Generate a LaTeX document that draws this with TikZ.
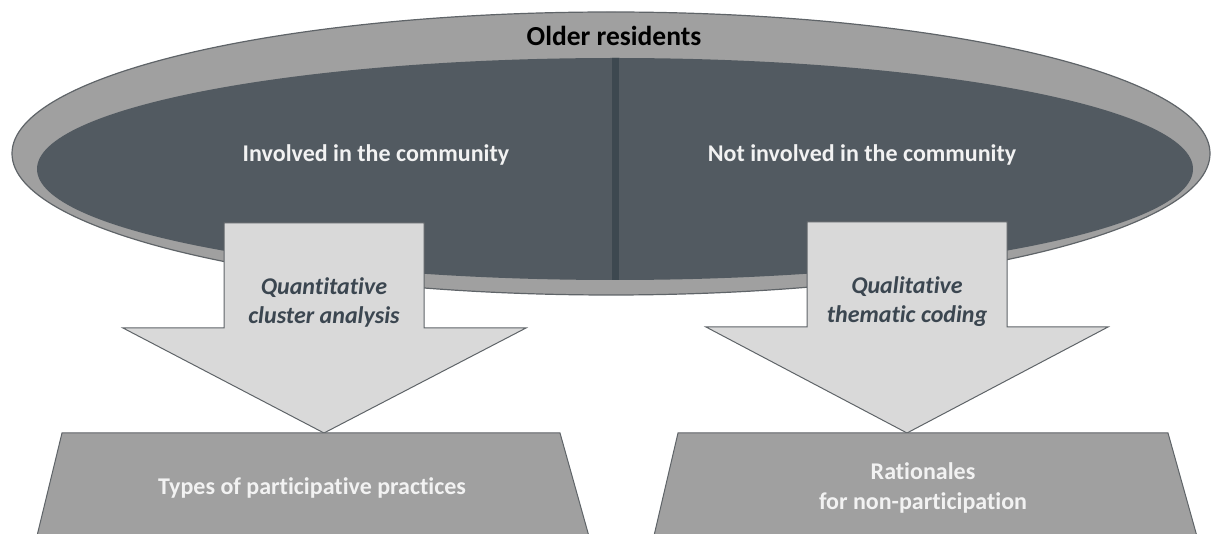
\documentclass[tikz,border=0pt]{standalone}
\usepackage{fontspec}
\setmainfont{Carlito}[Ligatures={NoCommon,NoContextual}]
\usetikzlibrary{shapes.geometric}
\definecolor{bandgray}{HTML}{A0A0A0}
\definecolor{slate}{HTML}{525A61}
\definecolor{divider}{HTML}{3D4850}
\definecolor{arrowfill}{HTML}{D9D9D9}
\definecolor{edgegray}{HTML}{5F6468}
\definecolor{methodtext}{HTML}{3B4650}
\definecolor{lighttext}{HTML}{F2F2F2}
\tikzset{
  outerband/.style={ellipse, fill=bandgray, draw=edgegray, line width=1.2pt, inner sep=0pt},
  innerband/.style={ellipse, fill=slate, inner sep=0pt},
  blockarrow/.style={fill=arrowfill, draw=edgegray, line width=1pt, line join=miter},
  resultbox/.style={fill=bandgray, draw=edgegray, line width=1pt},
  grouplabel/.style={text=lighttext, font=\fontsize{24}{28}\selectfont\bfseries, align=center},
  methodlabel/.style={text=methodtext, font=\fontsize{24}{29}\selectfont\bfseries\itshape, align=center},
  resultlabel/.style={text=lighttext, font=\fontsize{24}{30}\selectfont\bfseries, align=center}
}
\begin{document}
\begin{tikzpicture}[x=1pt, y=-1pt]
\useasboundingbox (0,0) rectangle (1213,534);

% population: outer ring and inner split ellipse
\node[outerband, minimum width=1198pt, minimum height=283pt] (pop) at (611,153.5) {};
\node[innerband, minimum width=1156pt, minimum height=222pt] (groups) at (615,169) {};
\begin{scope}
  \clip (615,169) ellipse [x radius=578, y radius=111];
  \fill[divider] (611.5,50) rectangle (618.5,290);
\end{scope}
\node[font=\fontsize{27.5}{31}\selectfont\bfseries] (older) at (614,36) {Older residents};
\node[grouplabel] (inv) at (376,155) {Involved in the community};
\node[grouplabel] (notinv) at (862,155) {Not involved in the community};

% analysis arrows
\coordinate (ltip) at (324,433);
\coordinate (rtip) at (907,433);
\draw[blockarrow] (224,223) -- (424,223) -- (424,328) -- (526,328) -- (ltip)
  -- (123,328) -- (224,328) -- cycle;
\draw[blockarrow] (807,222) -- (1007,222) -- (1007,327) -- (1108,327) -- (rtip)
  -- (706,327) -- (807,327) -- cycle;
\node[methodlabel] (quant) at (324,302) {Quantitative\\cluster analysis};
\node[methodlabel] (qual) at (907,302) {Qualitative\\thematic coding};

% outcomes
\draw[resultbox] (62,433) -- (560,433) -- (590,540) -- (36,540) -- cycle;
\draw[resultbox] (678,433) -- (1168,433) -- (1198,540) -- (653,540) -- cycle;
\node[resultlabel] (types) at (312,488) {Types of participative practices};
\node[resultlabel] (rationales) at (923,488) {Rationales\\for non-participation};
\end{tikzpicture}
\end{document}
